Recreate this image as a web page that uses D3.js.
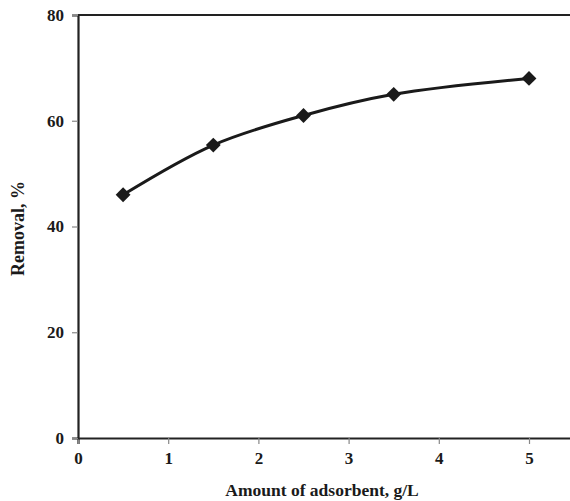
<!DOCTYPE html>
<html>
<head>
<meta charset="utf-8">
<script src="https://cdn.jsdelivr.net/npm/d3@7"></script>
<style>
  html, body { margin: 0; padding: 0; background: #fff; }
  svg { display: block; }
  text { font-family: "Liberation Serif", "Times New Roman", serif; font-weight: bold; fill: #1a1a1a; }
</style>
</head>
<body>
<svg id="chart" width="570" height="501"></svg>
<script>
// Removal efficiency vs. adsorbent dose
const dose = [0.5, 1.5, 2.5, 3.5, 5];
const removal = [46, 55.4, 61, 65, 68];
const xTicks = [0, 1, 2, 3, 4, 5];
const yTicks = [0, 20, 40, 60, 80];

const svg = d3.select("#chart");
const plotLeft = 78, plotTop = 15, plotBottom = 438;

const x = d3.scaleLinear().domain([0, 5.5]).range([plotLeft, plotLeft + 5.5 * 90.2]);
const y = d3.scaleLinear().domain([0, 80]).range([plotBottom, plotTop]);

// bottom axis
const xAxis = svg.append("g")
  .attr("transform", `translate(0,${plotBottom})`)
  .call(d3.axisBottom(x).tickValues(xTicks).tickFormat(d3.format("d")).tickSize(6).tickPadding(8));
xAxis.select(".domain").attr("stroke", "#222").attr("stroke-width", 2.2);
xAxis.selectAll(".tick line").attr("stroke", "#888").attr("stroke-width", 1.2);
xAxis.selectAll(".tick text").attr("font-size", 17).attr("fill", "#1a1a1a");

// left axis
const yAxis = svg.append("g")
  .attr("transform", `translate(${plotLeft},0)`)
  .call(d3.axisLeft(y).tickValues(yTicks).tickFormat(d3.format("d")).tickSize(6).tickPadding(8));
yAxis.select(".domain").attr("stroke", "#222").attr("stroke-width", 2.2);
yAxis.selectAll(".tick line").attr("stroke", "#888").attr("stroke-width", 1.2);
yAxis.selectAll(".tick text").attr("font-size", 17).attr("fill", "#1a1a1a");

// top frame line
svg.append("line")
  .attr("x1", x(0)).attr("x2", x(5.5))
  .attr("y1", y(80)).attr("y2", y(80))
  .attr("stroke", "#222").attr("stroke-width", 2.2);

// axis titles
svg.append("text")
  .attr("x", 322).attr("y", 496)
  .attr("text-anchor", "middle")
  .attr("font-size", 17.5)
  .text("Amount of adsorbent, g/L");

svg.append("text")
  .attr("transform", `translate(24,${(plotTop + plotBottom) / 2 + 2}) rotate(-90)`)
  .attr("text-anchor", "middle")
  .attr("font-size", 18)
  .text("Removal, %");

// smoothed series line
const pts = dose.map((d, i) => [d, removal[i]]);
const line = d3.line()
  .x(d => x(d[0]))
  .y(d => y(d[1]))
  .curve(d3.curveCatmullRom.alpha(0.5));

svg.append("path")
  .datum(pts)
  .attr("d", line)
  .attr("fill", "none")
  .attr("stroke", "#1a1a1a")
  .attr("stroke-width", 3);

// diamond markers
svg.selectAll(".marker")
  .data(pts)
  .join("path")
  .attr("class", "marker")
  .attr("d", d3.symbol(d3.symbolSquare, 110))
  .attr("transform", d => `translate(${x(d[0])},${y(d[1])}) rotate(45)`)
  .attr("fill", "#1a1a1a");
</script>
</body>
</html>
